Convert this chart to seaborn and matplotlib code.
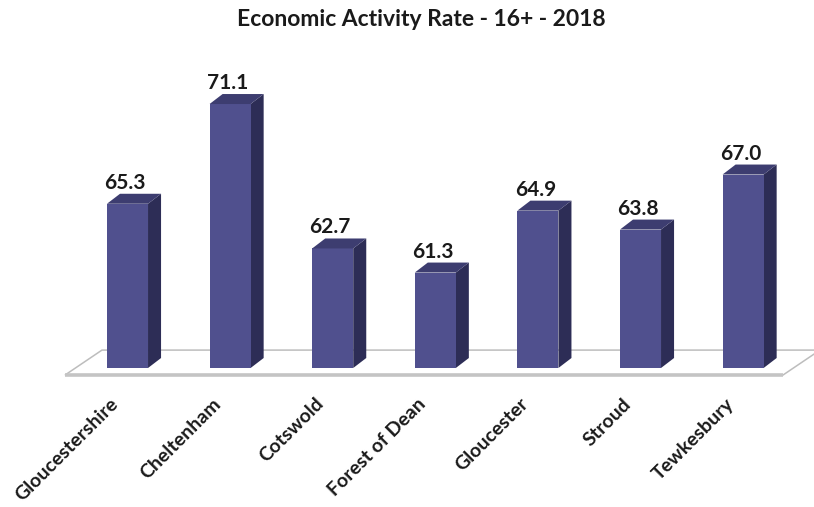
import matplotlib
matplotlib.use("Agg")
import matplotlib.pyplot as plt
from matplotlib.patches import Polygon
from matplotlib.transforms import ScaledTranslation
import seaborn as sns
import pandas as pd

# Economic activity rate (%) for people aged 16+, 2018
areas = ["Gloucestershire", "Cheltenham", "Cotswold", "Forest of Dean",
         "Gloucester", "Stroud", "Tewkesbury"]
rates = [65.3, 71.1, 62.7, 61.3, 64.9, 63.8, 67.0]
value_labels = ["65.3", "71.1", "62.7", "61.3", "64.9", "63.8", "67.0"]
title = "Economic Activity Rate - 16+ - 2018"

df = pd.DataFrame({"area": areas, "rate": rates})

sns.set_theme(style="white")
plt.rcParams["font.family"] = ["Lato", "DejaVu Sans"]

FRONT = "#50508e"
TOP = "#3d3d70"
SIDE = "#2d2d56"
FLOOR_EDGE = "#bdbdbd"

fig = plt.figure(figsize=(8.14, 5.07), dpi=100)
ax = fig.add_axes([0.0, 0.2742, 1.0, 0.6075])

sns.barplot(data=df, x="area", y="rate", color=FRONT, width=0.40,
            saturation=1, linewidth=0, edgecolor="none", ax=ax, zorder=3)

y_lo, y_hi = 55.75, 73.66
ax.set_ylim(y_lo, y_hi)
ax.set_xlim(-1.2427, 6.691)
ax.set_ylabel("")
ax.set_xlabel("")
ax.set_yticks([])
for s in ax.spines.values():
    s.set_visible(False)

# depth of the 3-D extrusion, in data units (x per category, y per %)
dx, dy = 0.127, 0.58

bars = list(ax.patches)

# floor slab underneath the bars
fx0, fx1 = -0.609, 6.389
fy_front = y_lo - 0.41
fdx, fdy = 0.36, 1.45
floor = Polygon([(fx0, fy_front), (fx1, fy_front),
                 (fx1 + fdx, fy_front + fdy), (fx0 + fdx, fy_front + fdy)],
                closed=True, facecolor="white", edgecolor=FLOOR_EDGE,
                linewidth=1.1, clip_on=False, zorder=1)
ax.add_patch(floor)
ax.plot([fx0, fx1], [fy_front, fy_front], color="#c4c4c4", lw=2.6,
        clip_on=False, zorder=1.5, solid_capstyle="butt")

# side and top faces built from each bar's own rectangle
for bar in bars:
    x0 = bar.get_x()
    w = bar.get_width()
    h = bar.get_y() + bar.get_height()
    x1 = x0 + w
    side = Polygon([(x1, y_lo), (x1, h), (x1 + dx, h + dy), (x1 + dx, y_lo + dy)],
                   closed=True, facecolor=SIDE, edgecolor="none",
                   clip_on=False, zorder=2.9)
    top = Polygon([(x0, h), (x1, h), (x1 + dx, h + dy), (x0 + dx, h + dy)],
                  closed=True, facecolor=TOP, edgecolor="none",
                  clip_on=False, zorder=3.1)
    ax.add_patch(side)
    ax.add_patch(top)

# value labels above every bar
for i, (v, txt) in enumerate(zip(rates, value_labels)):
    ax.annotate(txt, xy=(i, v), xytext=(-1.8, 10.8), textcoords="offset points",
                ha="center", va="baseline", fontsize=15, fontweight="bold",
                color="#1a1a1a", zorder=5)

# rotated category labels
ax.set_xticks(range(len(areas)))
ax.set_xticklabels(areas, rotation=45, ha="right", va="top",
                   rotation_mode="anchor", fontsize=14, fontweight="bold",
                   color="#1a1a1a")
ax.tick_params(axis="x", length=0, pad=19.5)
shift = ScaledTranslation(-0.18, 0, fig.dpi_scale_trans)
for lbl in ax.get_xticklabels():
    lbl.set_transform(lbl.get_transform() + shift)

fig.text(421 / 814, 1 - 20 / 507, title, ha="center", va="center",
         fontsize=16.5, fontweight="bold", color="#1a1a1a")

fig.savefig("out.png", dpi=100, facecolor="white")
